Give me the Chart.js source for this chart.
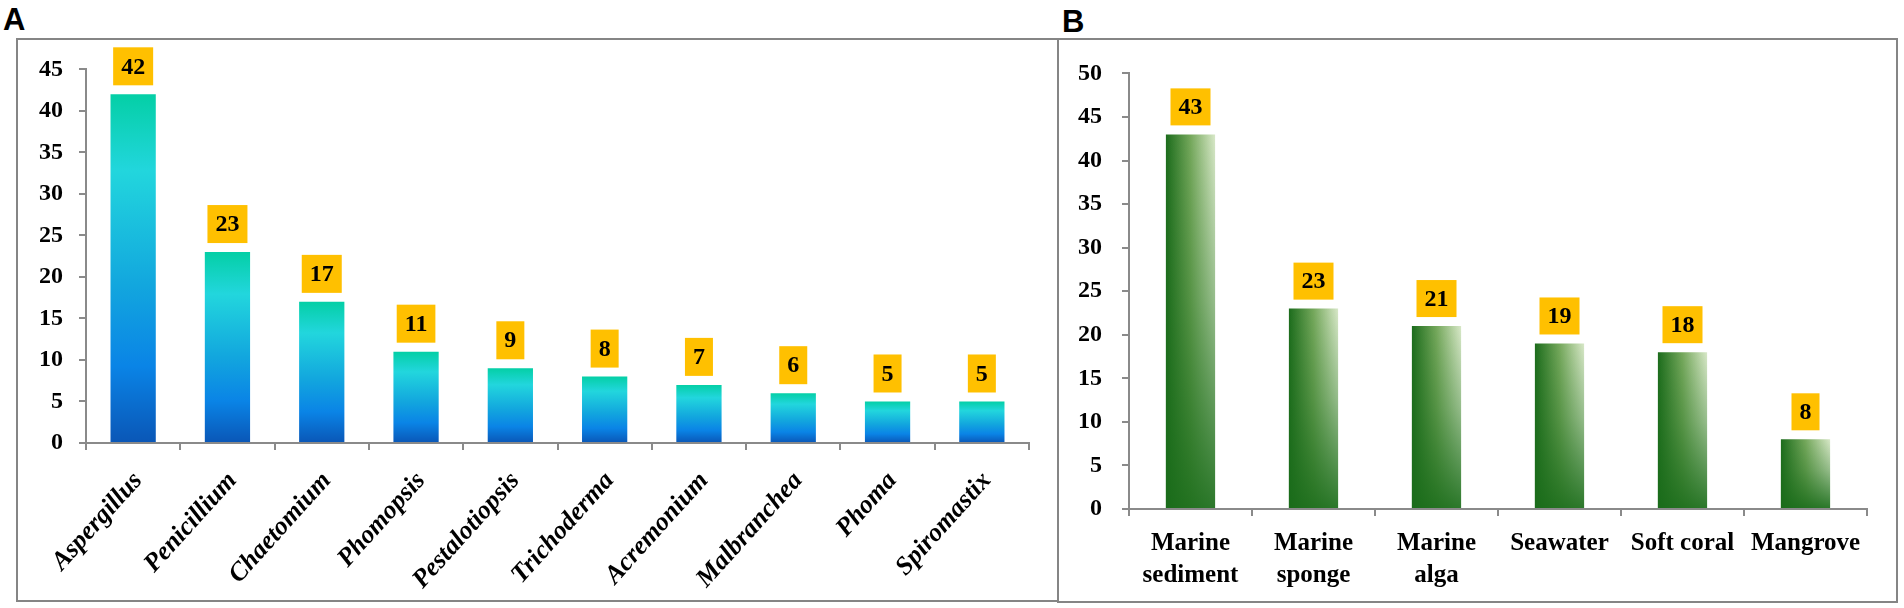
<!DOCTYPE html>
<html>
<head>
<meta charset="utf-8">
<script src="https://cdn.jsdelivr.net/npm/chart.js@4.4.0/dist/chart.umd.min.js"></script>
<style>
body { margin: 0; background: #fff; width: 1904px; height: 608px; overflow: hidden; position: relative; }
.frame { position: absolute; box-sizing: border-box; border: 2px solid #858585; }
.tag { position: absolute; font-family: "Liberation Sans", Arial, sans-serif; font-weight: bold; font-size: 31px; line-height: 31px; color: #000; }
canvas { position: absolute; }
</style>
</head>
<body>
<div class="tag" style="left:3px;top:4px">A</div>
<div class="tag" style="left:1062px;top:6px">B</div>
<canvas id="genusChart" width="1041" height="562" style="left:17px;top:39px"></canvas>
<canvas id="sourceChart" width="839" height="563" style="left:1058px;top:39px"></canvas>
<div class="frame" style="left:16px;top:38px;width:1043px;height:564px"></div>
<div class="frame" style="left:1057px;top:38px;width:841px;height:565px"></div>
<script>
// Panel A: fungal genera
const genusNames = ['Aspergillus', 'Penicillium', 'Chaetomium', 'Phomopsis', 'Pestalotiopsis',
    'Trichoderma', 'Acremonium', 'Malbranchea', 'Phoma', 'Spiromastix'];
const genusCounts = [42, 23, 17, 11, 9, 8, 7, 6, 5, 5];
const genusAxisMax = 45;

// Panel B: sources
const sourceNames = [['Marine', 'sediment'], ['Marine', 'sponge'], ['Marine', 'alga'], 'Seawater', 'Soft coral', 'Mangrove'];
const sourceCounts = [43, 23, 21, 19, 18, 8];
const sourceAxisMax = 50;

const tickStep = 5;
const serif = '"Times New Roman", "Liberation Serif", serif';
const axisGray = '#8a8a8a';

Chart.defaults.color = '#000';

// Yellow value boxes above each bar
const valueBoxes = {
    id: 'valueBoxes',
    afterDatasetsDraw(chart, args, opts) {
        const ctx = chart.ctx;
        const meta = chart.getDatasetMeta(0);
        ctx.save();
        ctx.font = 'bold ' + opts.size + 'px ' + serif;
        ctx.textAlign = 'center';
        ctx.textBaseline = 'middle';
        meta.data.forEach((bar, i) => {
            const txt = String(chart.data.datasets[0].data[i]);
            const w = ctx.measureText(txt).width + 2 * opts.padX;
            const bottom = bar.y - opts.gap;
            ctx.fillStyle = '#FFC000';
            ctx.fillRect(bar.x - w / 2, bottom - opts.height, w, opts.height);
            ctx.fillStyle = '#000';
            ctx.fillText(txt, bar.x, bottom - opts.height / 2 + 1);
        });
        ctx.restore();
    }
};

// Darkens the lower part of the green bars
const shadeBars = {
    id: 'shadeBars',
    afterDatasetsDraw(chart) {
        const ctx = chart.ctx;
        chart.getDatasetMeta(0).data.forEach(bar => {
            const {x, y, base, width} = bar.getProps(['x', 'y', 'base', 'width'], true);
            const g = ctx.createLinearGradient(0, y, 0, base);
            g.addColorStop(0, 'rgba(26,108,26,0)');
            g.addColorStop(0.45, 'rgba(26,108,26,0.35)');
            g.addColorStop(1, 'rgba(26,108,26,0.9)');
            ctx.fillStyle = g;
            ctx.fillRect(x - width / 2, y, width, base - y);
        });
    }
};

function blueFill(c) {
    const {ctx, chartArea, scales} = c.chart;
    if (!chartArea) return '#1aa0de';
    const top = scales.y.getPixelForValue(c.raw);
    const bottom = scales.y.getPixelForValue(0);
    const g = ctx.createLinearGradient(0, top, 0, bottom);
    g.addColorStop(0, '#04cfa6');
    g.addColorStop(0.22, '#22d6dd');
    g.addColorStop(0.55, '#12a6de');
    g.addColorStop(0.78, '#0a84e6');
    g.addColorStop(1, '#0a56b6');
    return g;
}

function greenFill(c) {
    const {ctx, chartArea, scales} = c.chart;
    if (!chartArea) return '#4f8f3f';
    const x = scales.x.getPixelForValue(c.dataIndex);
    const half = scales.x.width / sourceNames.length * 0.4 / 2;
    const g = ctx.createLinearGradient(x - half, 0, x + half, 0);
    g.addColorStop(0, '#1c6c1c');
    g.addColorStop(0.5, '#75a85c');
    g.addColorStop(1, '#d8e8c8');
    return g;
}

function yScale(max, width, pad) {
    return {
        min: 0,
        max: max,
        afterFit(s) { s.width = width; },
        ticks: { stepSize: tickStep, padding: pad, font: { family: serif, size: 24, weight: 'bold' } },
        grid: { drawOnChartArea: false, tickLength: 7, color: axisGray, lineWidth: 2 },
        border: { color: axisGray, width: 2 }
    };
}

new Chart(document.getElementById('genusChart'), {
    type: 'bar',
    data: {
        labels: genusNames,
        datasets: [{ data: genusCounts, backgroundColor: blueFill, categoryPercentage: 1, barPercentage: 0.48 }]
    },
    options: {
        responsive: false,
        animation: false,
        layout: { padding: { top: 28, right: 29, left: 0, bottom: 0 } },
        plugins: { legend: { display: false }, tooltip: { enabled: false },
            valueBoxes: { size: 24, padX: 8, height: 38, gap: 9 } },
        scales: {
            x: {
                afterFit(s) { s.height = 158; },
                ticks: { autoSkip: false, minRotation: 48, maxRotation: 48, padding: 16, labelOffset: 5,
                    font: { family: serif, size: 26, weight: 'bold', style: 'italic' } },
                grid: { drawOnChartArea: false, tickLength: 7, color: axisGray, lineWidth: 2 },
                border: { color: axisGray, width: 2 }
            },
            y: yScale(genusAxisMax, 69, 16)
        }
    },
    plugins: [valueBoxes]
});

new Chart(document.getElementById('sourceChart'), {
    type: 'bar',
    data: {
        labels: sourceNames,
        datasets: [{ data: sourceCounts, backgroundColor: greenFill, categoryPercentage: 1, barPercentage: 0.4 }]
    },
    options: {
        responsive: false,
        animation: false,
        layout: { padding: { top: 30, right: 30, left: 0, bottom: 0 } },
        plugins: { legend: { display: false }, tooltip: { enabled: false },
            valueBoxes: { size: 24, padX: 8, height: 37, gap: 9 } },
        scales: {
            x: {
                afterFit(s) { s.height = 93; },
                ticks: { autoSkip: false, maxRotation: 0, padding: 12,
                    font: { family: serif, size: 25, weight: 'bold', lineHeight: 1.28 } },
                grid: { drawOnChartArea: false, tickLength: 7, color: axisGray, lineWidth: 2 },
                border: { color: axisGray, width: 2 }
            },
            y: yScale(sourceAxisMax, 71, 20)
        }
    },
    plugins: [shadeBars, valueBoxes]
});
</script>
</body>
</html>
